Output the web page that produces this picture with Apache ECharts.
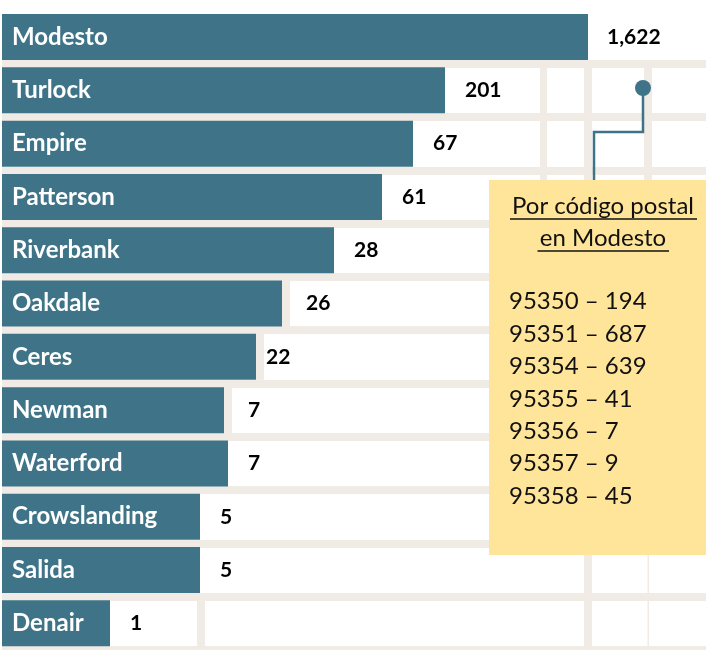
<!DOCTYPE html>
<html>
<head>
<meta charset="utf-8">
<script src="https://cdn.jsdelivr.net/npm/echarts@6/dist/echarts.min.js"></script>
<style>
html,body{margin:0;padding:0;background:#ffffff;}
#chart{width:706px;height:650px;}
</style>
</head>
<body>
<div id="chart"></div>
<script>
// ---- data ----
const categories = ['Modesto','Turlock','Empire','Patterson','Riverbank','Oakdale','Ceres','Newman','Waterford','Crowslanding','Salida','Denair'];
const caseValues = [1622, 201, 67, 61, 28, 26, 22, 7, 7, 5, 5, 1];
// drawn bar lengths (the source bars are not to scale), in pixel-like units
const barLength = [586, 443, 411, 380, 332, 280, 254, 222, 226, 198, 198, 108];
const zipCodes = ['95350','95351','95354','95355','95356','95357','95358'];
const zipCounts = [194, 687, 639, 41, 7, 9, 45];
const boxTitle = ['Por código postal', 'en Modesto'];

// ---- styling ----
const TEAL = '#3F7488';
const BEIGE = '#F0EBE5';
const YELLOW = '#FFE599';
const FONT = 'Lato';

// rows that show a beige cell separator right after the bar, and label gaps
const sepRows = {Oakdale: 8, Ceres: 8, Newman: 8};
const labelGap = {Modesto: 19, Oakdale: 16, Ceres: 2, Newman: 16};

function fmt(n){ return n.toString().replace(/\B(?=(\d{3})+(?!\d))/g, ','); }

const sepData = categories.map(function(c, i){
  return {
    value: sepRows[c] || 0,
    label: { distance: (labelGap[c] !== undefined ? labelGap[c] : 20) }
  };
});

const chart = echarts.init(document.getElementById('chart'), null, {renderer:'canvas'});

const zipText = zipCodes.map(function(z, i){ return z + ' \u2013 ' + zipCounts[i]; }).join('\n');

const option = {
  backgroundColor: '#ffffff',
  animation: false,
  grid: { left: 2, right: 0, top: 10.4, height: 640.8, containLabel: false },
  xAxis: {
    type: 'value', min: 0, max: 704,
    axisLine: {show:false}, axisTick:{show:false}, axisLabel:{show:false}, splitLine:{show:false}
  },
  yAxis: {
    type: 'category', data: categories, inverse: true,
    axisLine: {show:false}, axisTick:{show:false}, axisLabel:{show:false},
    splitLine: {
      show: true,
      interval: function(index){ return index !== 0; },
      lineStyle: { color: BEIGE, width: 8 }
    }
  },
  series: [
    {
      type: 'bar', stack: 'row', data: barLength, barWidth: 46, z: 3,
      itemStyle: { color: TEAL },
      label: {
        show: true, position: 'insideLeft', distance: 10,
        formatter: '{b}', color: '#ffffff',
        fontFamily: FONT, fontWeight: 'bold', fontSize: 24
      }
    },
    {
      type: 'bar', stack: 'row', data: sepData, barWidth: 46, z: 3,
      itemStyle: { color: BEIGE },
      label: {
        show: true, position: 'right', distance: 20,
        formatter: function(p){ return fmt(caseValues[p.dataIndex]); },
        color: '#000000', fontFamily: FONT, fontWeight: 'bold', fontSize: 21
      }
    }
  ],
  graphic: { elements: [
    // table grid lines (decoration)
    { type:'rect', z:1, shape:{x:540, y:60, width:7, height:200}, style:{fill:BEIGE} },
    { type:'rect', z:1, shape:{x:584, y:60, width:8, height:590}, style:{fill:BEIGE} },
    { type:'rect', z:1, shape:{x:644, y:60, width:8, height:495}, style:{fill:BEIGE} },
    { type:'rect', z:1, shape:{x:647.5, y:555, width:1.5, height:95}, style:{fill:BEIGE} },
    { type:'rect', z:1, shape:{x:197, y:598, width:8, height:52}, style:{fill:BEIGE} },
    // connector
    { type:'polyline', z:50, shape:{points:[[643,88],[643,132],[594,132],[594,182]]},
      style:{stroke:TEAL, lineWidth:2.5, fill:null} },
    { type:'circle', z:50, shape:{cx:643, cy:88, r:8}, style:{fill:TEAL} },
    // annotation box
    { type:'rect', z:60, shape:{x:489, y:180, width:217, height:375}, style:{fill:YELLOW} },
    { type:'text', z:61, x:603, y:206.5, style:{ text: boxTitle[0], fill:'#111', font: '24px Lato', align:'center', verticalAlign:'middle' } },
    { type:'text', z:61, x:603, y:238, style:{ text: boxTitle[1], fill:'#111', font: '24px Lato', align:'center', verticalAlign:'middle' } },
    { type:'line', z:61, shape:{x1:510, y1:219, x2:697, y2:219}, style:{stroke:'#111', lineWidth:1.5} },
    { type:'line', z:61, shape:{x1:537.5, y1:251, x2:669, y2:251}, style:{stroke:'#111', lineWidth:1.5} },
    { type:'text', z:61, x:509, y:285.5, style:{ text: zipText, fill:'#111', font: '24px Lato', align:'left', verticalAlign:'top', lineHeight: 32.4 } }
  ]}
};
chart.setOption(option);
</script>
</body>
</html>
